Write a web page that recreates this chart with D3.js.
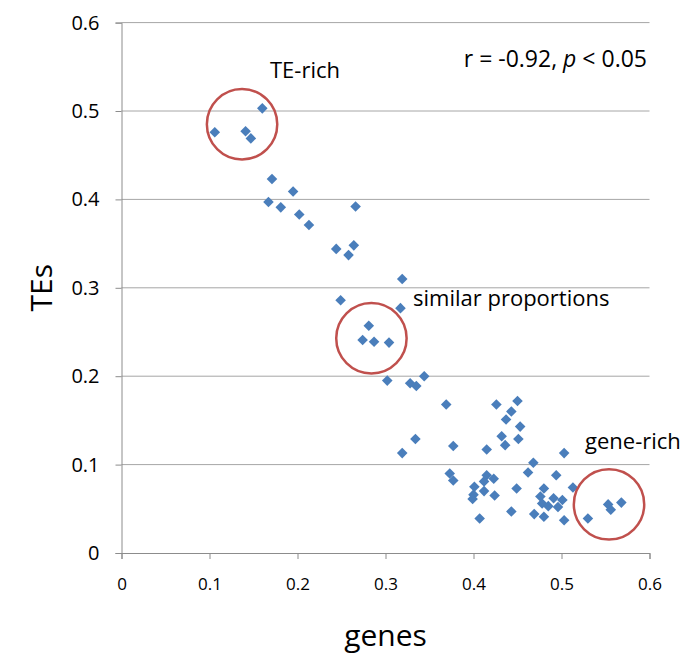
<!DOCTYPE html>
<html>
<head>
<meta charset="utf-8">
<script src="https://cdn.jsdelivr.net/npm/d3@7"></script>
<style>
  body { margin: 0; background: #fff; }
  text { font-family: "Open Sans", sans-serif; fill: #000; }
</style>
</head>
<body>
<div id="chart-area"></div>
<script>
// proportion of genes vs proportion of TEs, one point per region
const genes = [0.106, 0.141, 0.147, 0.160, 0.171, 0.195, 0.167, 0.181, 0.202, 0.213,
	0.266, 0.244, 0.264, 0.258, 0.319, 0.249, 0.317, 0.281, 0.274, 0.287,
	0.304, 0.302, 0.328, 0.335, 0.344, 0.369, 0.426, 0.450, 0.443, 0.437,
	0.453, 0.432, 0.451, 0.436, 0.334, 0.319, 0.377, 0.415, 0.468, 0.462,
	0.494, 0.373, 0.377, 0.415, 0.423, 0.412, 0.401, 0.412, 0.400, 0.399,
	0.424, 0.449, 0.443, 0.407, 0.503, 0.513, 0.480, 0.476, 0.491, 0.501,
	0.478, 0.485, 0.496, 0.469, 0.480, 0.503, 0.530, 0.553, 0.556, 0.568]
const tes = [0.476, 0.477, 0.469, 0.503, 0.423, 0.409, 0.397, 0.391, 0.383, 0.371,
	0.392, 0.344, 0.348, 0.337, 0.310, 0.286, 0.277, 0.257, 0.241, 0.239,
	0.238, 0.195, 0.192, 0.189, 0.200, 0.168, 0.168, 0.172, 0.160, 0.151,
	0.143, 0.132, 0.129, 0.122, 0.129, 0.113, 0.121, 0.117, 0.102, 0.091,
	0.088, 0.090, 0.082, 0.088, 0.084, 0.081, 0.075, 0.070, 0.066, 0.061,
	0.065, 0.073, 0.047, 0.039, 0.113, 0.074, 0.073, 0.064, 0.062, 0.060,
	0.056, 0.053, 0.052, 0.044, 0.041, 0.037, 0.039, 0.055, 0.049, 0.057]

const xTicks = [0, 0.1, 0.2, 0.3, 0.4, 0.5, 0.6]
const yTicks = [0, 0.1, 0.2, 0.3, 0.4, 0.5, 0.6]

// highlighted groups (circle centres, in data units)
const groupNames = ["TE-rich", "similar proportions", "gene-rich"]
const groupX = [0.137, 0.284, 0.554]
const groupY = [0.485, 0.243, 0.055]

const data = genes.map((g, i) => ({ g: g, t: tes[i] }))

const width = 685, height = 668
const plotLeft = 121.5, plotRight = 649.5, plotTop = 22.6, plotBottom = 553

const svg = d3.select("#chart-area").append("svg")
	.attr("width", width)
	.attr("height", height)

const x = d3.scaleLinear().domain([0, 0.6]).range([plotLeft, plotRight])
const y = d3.scaleLinear().domain([0, 0.6]).range([plotBottom, plotTop])

// horizontal gridlines
svg.append("g")
	.selectAll("line")
	.data(yTicks.slice(1))
	.enter().append("line")
	.attr("x1", plotLeft).attr("x2", plotRight)
	.attr("y1", d => y(d)).attr("y2", d => y(d))
	.attr("stroke", "#a6a6a6")
	.attr("stroke-width", 1)

// y axis
const yAxis = svg.append("g")
	.attr("transform", `translate(${plotLeft},0)`)
	.call(d3.axisLeft(y).tickValues(yTicks).tickSize(6).tickPadding(16)
		.tickFormat(d => d === 0 ? "0" : d3.format(".1f")(d)))
yAxis.select(".domain").attr("stroke", "#8c8c8c")
yAxis.selectAll(".tick line").attr("stroke", "#8c8c8c")
yAxis.selectAll(".tick text")
	.style("font-family", "'Open Sans', sans-serif")
	.style("font-size", "20px")
	.attr("fill", "#000")

// x axis
const xAxis = svg.append("g")
	.attr("transform", `translate(0,${plotBottom})`)
	.call(d3.axisBottom(x).tickValues(xTicks).tickSize(6).tickPadding(19)
		.tickFormat(d => d === 0 ? "0" : d3.format(".1f")(d)))
xAxis.select(".domain").attr("stroke", "#8c8c8c")
xAxis.selectAll(".tick line").attr("stroke", "#8c8c8c")
xAxis.selectAll(".tick text")
	.style("font-family", "'Open Sans', sans-serif")
	.style("font-size", "17px")
	.attr("fill", "#000")

// axis titles
svg.append("text")
	.attr("x", x(0.3))
	.attr("y", 646)
	.attr("text-anchor", "middle")
	.style("font-size", "30px")
	.text("genes")

svg.append("text")
	.attr("transform", `translate(52,${y(0.3)}) rotate(-90)`)
	.attr("text-anchor", "middle")
	.style("font-size", "30px")
	.text("TEs")

// diamonds
const diamond = d3.symbol().type(d3.symbolSquare).size(56)
svg.append("g")
	.selectAll("path")
	.data(data)
	.enter().append("path")
	.attr("d", diamond)
	.attr("transform", d => `translate(${x(d.g)},${y(d.t)}) rotate(45)`)
	.attr("fill", "#4a7ebb")

// group circles
svg.append("g")
	.selectAll("circle")
	.data(groupX)
	.enter().append("circle")
	.attr("cx", d => x(d))
	.attr("cy", (d, i) => y(groupY[i]))
	.attr("r", x(0.04) - x(0))
	.attr("fill", "none")
	.attr("stroke", "#c0504d")
	.attr("stroke-width", 2.5)

// group labels
const labelPos = [[270, 78], [413, 306], [585, 449]]
svg.append("g")
	.selectAll("text")
	.data(groupNames)
	.enter().append("text")
	.attr("x", (d, i) => labelPos[i][0])
	.attr("y", (d, i) => labelPos[i][1])
	.style("font-size", "22px")
	.text(d => d)

// correlation note
const note = svg.append("text")
	.attr("x", 647)
	.attr("y", 67)
	.attr("text-anchor", "end")
	.style("font-size", "23px")
note.append("tspan").text("r = -0.92, ")
note.append("tspan").style("font-style", "italic").text("p")
note.append("tspan").text(" < 0.05")
</script>
</body>
</html>
